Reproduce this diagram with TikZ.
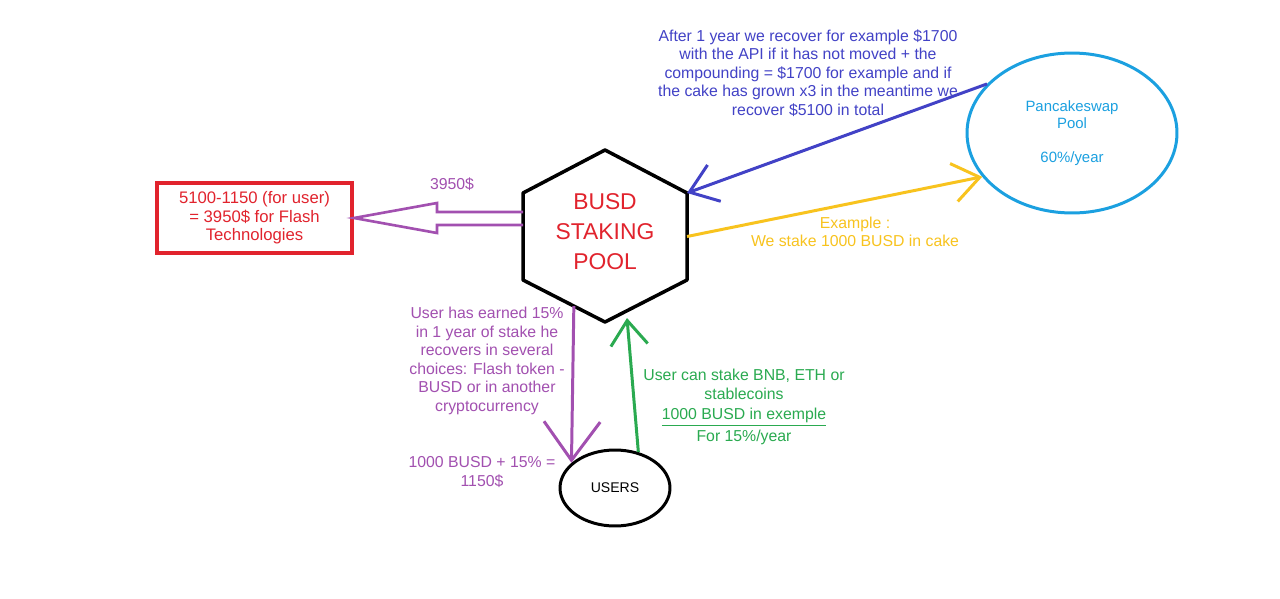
\documentclass[tikz,border=0pt]{standalone}
\usepackage{fontspec}
\setmainfont{Liberation Sans}
\usetikzlibrary{arrows.meta,calc,shapes.geometric}
\definecolor{poolred}{RGB}{225,35,45}
\definecolor{apiblue}{RGB}{66,66,198}
\definecolor{cakeblue}{RGB}{27,160,224}
\definecolor{stakeyellow}{RGB}{248,195,30}
\definecolor{userpurple}{RGB}{162,80,176}
\definecolor{usergreen}{RGB}{42,170,80}
\begin{document}
\begin{tikzpicture}[x=0.02cm,y=-0.02cm,
        txt/.style={align=center,inner sep=0pt,font=\fontsize{9}{10.5}\selectfont},
        conn/.style={line width=1.7pt},
        barb/.style={-{Straight Barb[length=15pt,width=22pt]}}]
        \fill[white] (0,0) rectangle (1280,598);
        \draw[line width=2pt,line join=round] (605,150) coordinate (hN) -- (687,193) coordinate (hNE)
            -- (687,280) coordinate (hSE) -- (605,322) coordinate (hS) -- (523,280) coordinate (hSW)
            -- (523,193) coordinate (hNW) -- cycle;
        \node[txt,text=poolred,font=\fontsize{13}{17}\selectfont] (pool) at (605,232) {BUSD\\STAKING\\POOL};
        \node[draw=poolred,line width=2.3pt,minimum width=3.9cm,minimum height=1.4cm,txt,text=poolred,
            font=\fontsize{9.5}{10.6}\selectfont] (box) at (254.5,218) {5100-1150 (for user)\\= 3950\$ for Flash\\Technologies};
        \node[ellipse,draw=cakeblue,line width=1.7pt,minimum width=4.2cm,minimum height=3.2cm,txt,text=cakeblue,
            font=\fontsize{8.5}{9.7}\selectfont] (cake) at (1072,133) {Pancakeswap\\Pool\\[9.7pt]60\%/year};
        \node[ellipse,draw,line width=1.7pt,minimum width=2.2cm,minimum height=1.52cm,txt,
            font=\fontsize{8}{9}\selectfont] (users) at (615,488) {USERS};
        \node[txt,text=apiblue] (api) at (808,73) {After 1 year we recover for example \$1700\\with the API if it has not moved + the\\compounding = \$1700 for example and if\\the cake has grown x3 in the meantime we\\recover \$5100 in total};
        \node[txt,text=userpurple] (gain) at (452,184) {3950\$};
        \node[txt,text=stakeyellow] (stake) at (855,232) {Example :\\We stake 1000 BUSD in cake};
        \node[txt,text=userpurple] (earn) at (487,361) {User has earned 15\%\\in 1 year of stake he\\recovers in several\\choices: Flash token -\\BUSD or in another\\cryptocurrency};
        \node[txt,text=userpurple] (total) at (482,472) {1000 BUSD + 15\% =\\1150\$};
        \node[txt,text=usergreen] (deposit) at (744,407) {User can stake BNB, ETH or\\stablecoins\\[1pt]\underline{1000 BUSD in exemple}\\[2pt]For 15\%/year};
        \coordinate (pd) at ($(hSW)!.62!(hS)$);
        \coordinate (pu) at (627,318);
        \draw[conn,barb,apiblue] (cake.150) -- (hNE);
        \draw[conn,barb,stakeyellow] ($(hNE)!.5!(hSE)$) -- (cake.206);
        \draw[conn,userpurple,-{Straight Barb[length=22pt,width=32pt]}] (pd) -- (users.150);
        \draw[conn,usergreen,-{Straight Barb[length=14pt,width=21pt]}] (users.57) -- (pu);
        \draw[line width=1.5pt,userpurple,line join=miter] (523,212) -- (437,212) -- (437,203) -- (box.east)
            -- (437,233) -- (437,225) -- (523,225);
    \end{tikzpicture}
\end{document}
